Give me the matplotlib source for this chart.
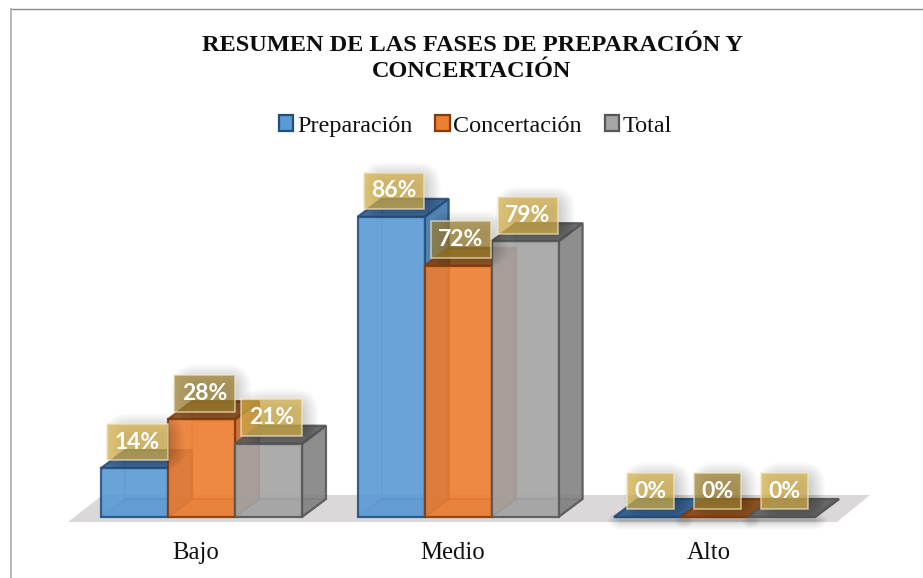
import matplotlib
matplotlib.use("Agg")
import matplotlib.pyplot as plt
import numpy as np
from matplotlib.lines import Line2D
from matplotlib.patches import FancyBboxPatch, Patch, Polygon

categories = ["Bajo", "Medio", "Alto"]
series_names = ["Preparación", "Concertación", "Total"]
preparacion = [14, 86, 0]
concertacion = [28, 72, 0]
total = [21, 79, 0]
title = "RESUMEN DE LAS FASES DE PREPARACIÓN Y\nCONCERTACIÓN"

fronts = ["#5B9BD5", "#ED7D31", "#A5A5A5"]
edges = ["#234F7C", "#843C0C", "#575757"]
sides = ["#3F74A8", "#C2652A", "#808080"]
tops = ["#285686", "#7F4212", "#595959"]
label_colors = ["#D4B04A", "#9C8030", "#D4B04A"]

W, H = 923, 578
px_x = 256.5  # pixels per category
px_y = 3.49  # pixels per percentage point
base_px = 517
bottom_px = 532
bar_w = 67 / px_x
depth_x = 24 / px_x
depth_y = 18 / px_y

fig = plt.figure(figsize=(W / 100, H / 100), dpi=100, facecolor="white")
ax = fig.add_axes([0, (H - bottom_px) / H, 1, bottom_px / H])
ax.set_xlim(-201.5 / px_x, (W - 201.5) / px_x)
ax.set_ylim(-(bottom_px - base_px) / px_y, base_px / px_y)
ax.set_facecolor("none")
for s in ax.spines.values():
    s.set_visible(False)
ax.set_yticks([])
ax.set_xticks(np.arange(len(categories)) - 5.5 / px_x)
ax.set_xticklabels(categories, family="Liberation Serif", fontsize=17.8, color="#111111")
ax.tick_params(axis="x", length=0, pad=7.5)


def soft_shadow(x0, y0, w, h, spread, strength, z):
    # stacked translucent boxes give a blurred edge
    for i in range(spread):
        g = spread - i - spread / 2
        ax.add_patch(FancyBboxPatch(
            (x0 - g / px_x, y0 - g / px_y), w + 2 * g / px_x, h + 2 * g / px_y,
            boxstyle="round,pad=0,rounding_size=%f" % ((spread / 2 + g + 2) / px_x),
            mutation_aspect=px_x / px_y, fc="black", ec="none",
            alpha=strength, zorder=z,
        ))


# floor
ax.add_patch(Polygon(
    [(-133.5 / px_x, -5 / px_y), (-99 / px_x, 22 / px_y),
     (668.5 / px_x, 22 / px_y), (635.5 / px_x, -5 / px_y)],
    closed=True, fc="#DAD8D8", ec="none", zorder=1,
))

series = [preparacion, concertacion, total]
x = np.arange(len(categories))
for k, values in enumerate(series):
    lefts = x + (k - 1.5) * bar_w
    z = 3 + k
    for left, v in zip(lefts, values):
        right = left + bar_w
        if v == 0:
            soft_shadow(left, -6 / px_y, bar_w + 6 / px_x, 5 / px_y, 14, 0.014, 2)
        # back faces
        ax.add_patch(Polygon(
            [(left + depth_x, depth_y), (right + depth_x, depth_y),
             (right + depth_x, v + depth_y), (left + depth_x, v + depth_y)],
            closed=True, fc=fronts[k], ec=edges[k], lw=1.2, alpha=0.35, zorder=z,
        ))
        ax.add_patch(Polygon(
            [(left, 0), (left + depth_x, depth_y), (right + depth_x, depth_y), (right, 0)],
            closed=True, fc=sides[k], ec=edges[k], lw=1.2, alpha=0.45, zorder=z,
        ))
        ax.add_patch(Polygon(
            [(left, 0), (left + depth_x, depth_y), (left + depth_x, v + depth_y), (left, v)],
            closed=True, fc=sides[k], ec="none", alpha=0.25, zorder=z,
        ))
        # right side and top
        ax.add_patch(Polygon(
            [(right, 0), (right + depth_x, depth_y), (right + depth_x, v + depth_y), (right, v)],
            closed=True, fc=sides[k], ec=edges[k], lw=1.6, alpha=0.85, zorder=z,
        ))
        ax.add_patch(Polygon(
            [(left, v), (left + depth_x, v + depth_y), (right + depth_x, v + depth_y), (right, v)],
            closed=True, fc=tops[k], ec=edges[k], lw=1.6, alpha=0.85, zorder=z,
        ))
    ax.bar(lefts, values, width=bar_w, align="edge", color=fronts[k], edgecolor=edges[k],
           linewidth=1.6, alpha=0.87, zorder=z + 0.5)

# value labels with their shadows
for k, values in enumerate(series):
    lefts = x + (k - 1.5) * bar_w
    for left, v in zip(lefts, values):
        cx = left + bar_w / 2 + 3 / px_x
        cy = v + 26 / px_y
        half = (23 if v == 0 else 29) / px_x
        soft_shadow(cx - half + 7 / px_x, cy - 18 / px_y, 2 * half, 36 / px_y, 22, 0.012, 8)
        ax.text(cx, cy, "%d%%" % v, ha="center", va="center", family="Lato",
                fontweight="bold", fontsize=16.5, color="white", zorder=10,
                bbox=dict(boxstyle="square,pad=0.34", fc=label_colors[k], ec="#F3E9C6",
                          lw=1.1, alpha=0.72))

fig.text(472 / W, 1 - 58.5 / H, title, ha="center", va="center", family="Liberation Serif",
         fontweight="bold", fontsize=17.5, linespacing=1.29, color="#0d0d0d")

handles = [Patch(fc=f, ec=e, lw=1.6) for f, e in zip(fronts, edges)]
fig.legend(handles, series_names, ncol=3, loc="center", bbox_to_anchor=(475.5 / W, 1 - 126 / H),
           frameon=False, prop={"family": "Liberation Serif", "size": 17.4},
           handlelength=0.6, handleheight=0.6, handletextpad=0.15, columnspacing=0.95,
           labelcolor="#111111", borderpad=0)

# chart frame
fig.add_artist(Line2D([10.5 / W, 1], [1 - 8.5 / H, 1 - 8.5 / H], color="#8C8C8C", lw=1))
fig.add_artist(Line2D([10.5 / W, 10.5 / W], [0, 1 - 8.5 / H], color="#ABABAB", lw=1.2))

fig.savefig("out.png", dpi=100, facecolor="white")
